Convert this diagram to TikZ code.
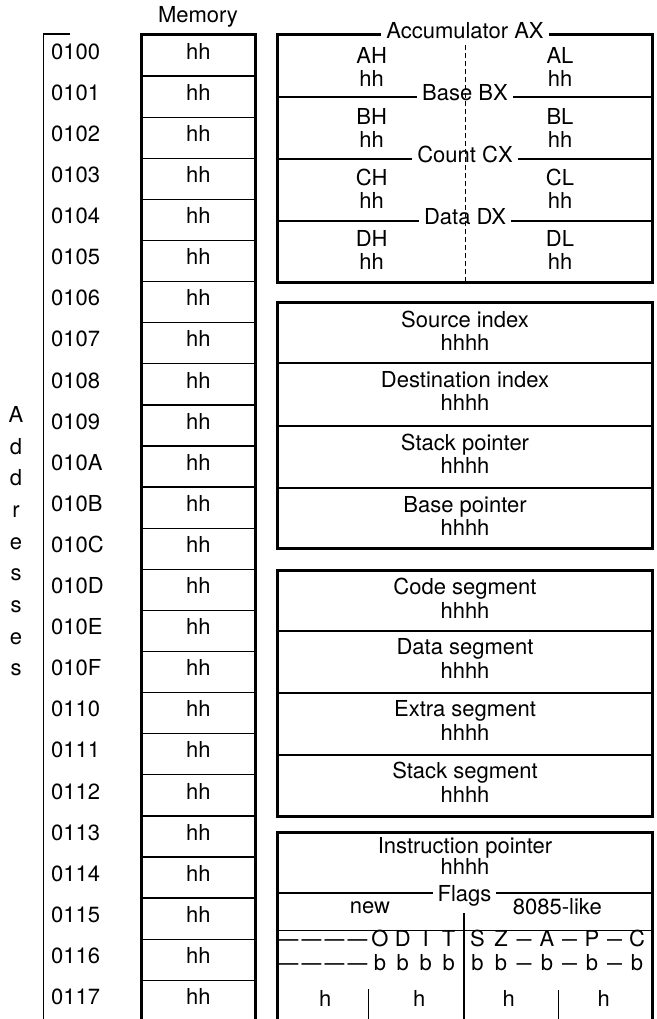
\documentclass[tikz,border=0pt]{standalone}
\usepackage{graphicx}
\usepackage{fontspec}
\setmainfont{TeX Gyre Heros}
\newcommand{\longdash}{\scalebox{.9}[1]{\textemdash}}
\newcommand{\shortdash}{\scalebox{.68}[1]{\textemdash}}

\begin{document}
\begin{tikzpicture}[x=1pt,y=-1pt,font=\fontsize{22}{26}\selectfont,
    every node/.style={inner sep=0pt,text height=.72em,text depth=0pt},
    outerline/.style={line width=3pt},
    regline/.style={line width=2.2pt},
    thinline/.style={line width=1.3pt},
    onbar/.style={fill=white,inner xsep=5pt,inner ysep=1.5pt}]
  \useasboundingbox (0,0) rectangle (656,1019);

  % Addresses
  \draw[thinline] (70,34) -- (43.3,34) -- (43.3,1019);
  \foreach \ch [count=\i from 0] in {A,d,d,r,e,s,s,e,s}
    \node[anchor=base] (addrtxt\i) at (16,422.5+31.65*\i) {\ch};

  % Memory column
  \node (memtitle) at (198,19.2) {Memory};
  \foreach \a [count=\i from 0] in {0100,0101,0102,0103,0104,0105,0106,0107,
      0108,0109,010A,010B,010C,010D,010E,010F,
      0110,0111,0112,0113,0114,0115,0116,0117}{
    \node[anchor=west] (addr\a) at (51,55.6+41.1*\i) {\a};
    \node (mem\a) at (198.3,55.6+41.1*\i) {hh};
  }
  \foreach \i in {1,...,23}
    \draw[thinline] (141.7,35+41.1*\i) -- (255,35+41.1*\i);
  \draw[outerline] (141.7,1019) -- (141.7,35) -- (255,35) -- (255,1019);

  % General registers
  \draw[outerline] (277.3,35) rectangle (652.7,282.7);
  \foreach \y in {97.3,159.3,221}
    \draw[regline] (277.3,\y) -- (652.7,\y);
  \node[onbar] (ax) at (465,35) {Accumulator AX};
  \node[onbar] (bx) at (465,97.3) {Base BX};
  \node[onbar] (cx) at (465,159.3) {Count CX};
  \node[onbar] (dx) at (465,221) {Data DX};
  \draw[line width=1pt,dash pattern=on 5pt off 3pt] (465,45) -- (465,282.7);
  \foreach \r/\y in {A/60,B/120.5,C/181.7,D/243.3}{
    \node (hi\r) at (371.7,\y) {\r H};
    \node (hival\r) at (371.7,\y+23) {hh};
    \node (lo\r) at (560,\y) {\r L};
    \node (loval\r) at (560,\y+23) {hh};
  }

  % Pointer and index registers
  \draw[outerline] (277.3,302.7) rectangle (652.7,548.3);
  \foreach \y in {363.3,426,488.3}
    \draw[regline] (277.3,\y) -- (652.7,\y);
  \foreach \t/\y [count=\i] in {Source index/302.7,Destination index/363.3,
      Stack pointer/426,Base pointer/488.3}{
    \node (ptr\i) at (465,\y+21) {\t};
    \node (ptrval\i) at (465,\y+44) {hhhh};
  }

  % Segment registers
  \draw[outerline] (277.3,570.7) rectangle (652.7,816);
  \foreach \y in {630.7,692.7,755}
    \draw[regline] (277.3,\y) -- (652.7,\y);
  \foreach \t/\y [count=\i] in {Code segment/570.7,Data segment/630.7,
      Extra segment/692.7,Stack segment/755}{
    \node (seg\i) at (465,\y+20) {\t};
    \node (segval\i) at (465,\y+44) {hhhh};
  }

  % Instruction pointer and flags
  \draw[outerline] (277.3,1019) -- (277.3,832.5) -- (652.7,832.5) -- (652.7,1019);
  \node (ip) at (465,850) {Instruction pointer};
  \node (ipval) at (465,871) {hhhh};
  \draw[regline] (277.3,893) -- (652.7,893);
  \node[onbar] (flags) at (464.5,897.5) {Flags};
  \node (new) at (370,910) {new};
  \node (like) at (557.3,911) {8085-like};
  \draw[thinline] (464,913) -- (464,1019);
  \draw[line width=1pt] (277.3,930) -- (652.7,930);
  \foreach \x [count=\i] in {288.5,311.5,334.5,357.5}{
    \node (fdash\i) at (\x,943.3) {\longdash};
    \node (bdash\i) at (\x,966.7) {\longdash};
  }
  \foreach \f/\x in {O/380,D/402.7,I/425.7,T/448.7,S/477.5,Z/501,A/547,P/592,C/637}{
    \node (flag\f) at (\x,943.3) {\f};
    \node (bit\f) at (\x,966.7) {b};
  }
  \foreach \x [count=\i] in {524,569.5,614.5}{
    \node (fgap\i) at (\x,943.3) {\shortdash};
    \node (bgap\i) at (\x,966.7) {\shortdash};
  }
  \foreach \x [count=\i] in {325.3,419.3,508.7,603.7}
    \node (hex\i) at (\x,1002.7) {h};
  \draw[thinline] (368.7,989) -- (368.7,1019);
  \draw[thinline] (558.7,990) -- (558.7,1019);
\end{tikzpicture}
\end{document}
